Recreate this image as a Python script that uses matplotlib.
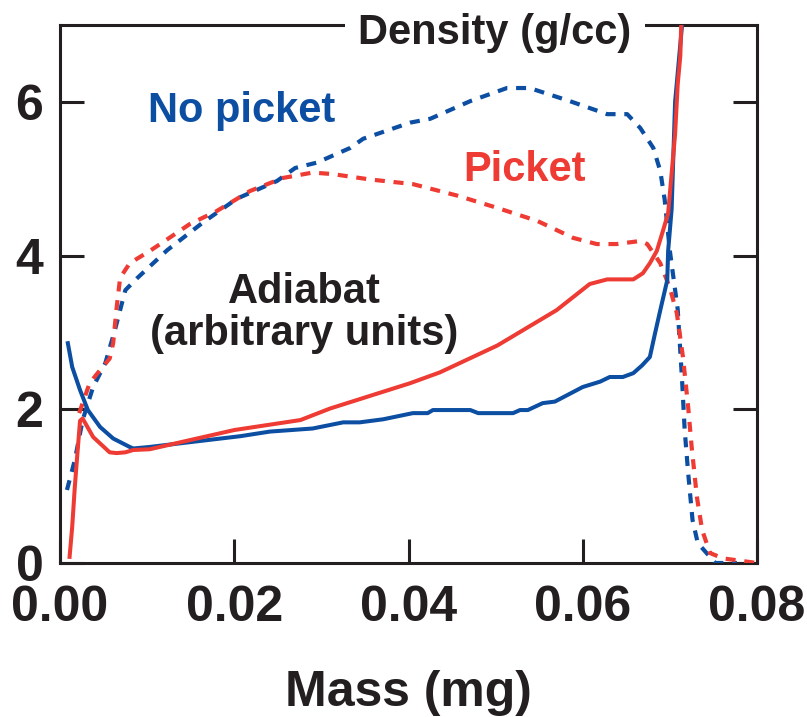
import matplotlib.pyplot as plt

# Adiabat, no picket (blue solid)
adi_np_x = [0.0009, 0.0014, 0.0023, 0.0032, 0.0046, 0.0061, 0.0080, 0.0084, 0.0103, 0.0207,
            0.0241, 0.0290, 0.0325, 0.0344, 0.0371, 0.0405, 0.0422, 0.0428, 0.0471, 0.0480,
            0.0520, 0.0528, 0.0537, 0.0554, 0.0568, 0.0600, 0.0620, 0.0631, 0.0646, 0.0658,
            0.0668, 0.0677, 0.0683, 0.0689, 0.0697, 0.0698, 0.0702, 0.0706, 0.0714]
adi_np_y = [2.86, 2.55, 2.25, 1.99, 1.77, 1.62, 1.51, 1.49, 1.51, 1.65,
            1.71, 1.75, 1.83, 1.83, 1.87, 1.95, 1.95, 1.99, 1.99, 1.95,
            1.95, 1.99, 1.99, 2.08, 2.10, 2.29, 2.36, 2.42, 2.42, 2.47,
            2.57, 2.68, 2.99, 3.29, 3.68, 4.06, 4.60, 6.00, 7.00]

# Adiabat, picket (red solid)
adi_p_x = [0.0011, 0.0014, 0.0017, 0.0020, 0.0023, 0.0026, 0.0038, 0.0057, 0.0065, 0.0075,
           0.0084, 0.0103, 0.0200, 0.0276, 0.0310, 0.0402, 0.0436, 0.0502, 0.0570, 0.0608,
           0.0628, 0.0658, 0.0669, 0.0677, 0.0685, 0.0692, 0.0698, 0.0706, 0.0709, 0.0712, 0.0713]
adi_p_y = [0.08, 0.47, 0.99, 1.43, 1.85, 1.88, 1.64, 1.44, 1.43, 1.44,
           1.47, 1.48, 1.73, 1.86, 2.01, 2.34, 2.48, 2.83, 3.29, 3.63,
           3.69, 3.69, 3.77, 3.90, 4.06, 4.32, 4.55, 5.58, 6.23, 6.60, 7.00]

# Density, no picket (blue dashed)
den_np_x = [0.0008, 0.0017, 0.0026, 0.0038, 0.0052, 0.0063, 0.0075, 0.0088, 0.0123, 0.0164,
            0.0203, 0.0249, 0.0270, 0.0295, 0.0333, 0.0348, 0.0402, 0.0425, 0.0471, 0.0513,
            0.0539, 0.0585, 0.0628, 0.0651, 0.0666, 0.0681, 0.0689, 0.0694, 0.0700, 0.0709,
            0.0714, 0.0717, 0.0721, 0.0726, 0.0732, 0.0746, 0.0752, 0.0777]
den_np_y = [0.95, 1.34, 1.86, 2.29, 2.60, 3.03, 3.55, 3.70, 4.07, 4.43,
            4.74, 4.97, 5.14, 5.21, 5.40, 5.52, 5.73, 5.78, 6.01, 6.18,
            6.18, 6.01, 5.84, 5.84, 5.66, 5.40, 5.10, 4.73, 4.06, 3.30,
            2.38, 1.73, 1.17, 0.56, 0.26, 0.08, 0.00, 0.00]

# Density, picket (red dashed)
den_p_x = [0.0022, 0.0026, 0.0034, 0.0046, 0.0057, 0.0061, 0.0065, 0.0069, 0.0080, 0.0103,
           0.0115, 0.0149, 0.0180, 0.0218, 0.0256, 0.0290, 0.0313, 0.0356, 0.0405, 0.0456,
           0.0502, 0.0548, 0.0589, 0.0616, 0.0639, 0.0666, 0.0674, 0.0689, 0.0700, 0.0708,
           0.0715, 0.0721, 0.0725, 0.0731, 0.0737, 0.0746, 0.0761, 0.0800]
den_p_y = [1.95, 2.08, 2.34, 2.51, 2.66, 2.86, 3.32, 3.71, 3.90, 4.06,
           4.15, 4.41, 4.58, 4.84, 5.01, 5.08, 5.06, 4.99, 4.93, 4.78,
           4.62, 4.45, 4.23, 4.15, 4.15, 4.19, 4.15, 3.90, 3.58, 3.25,
           2.68, 2.03, 1.51, 0.86, 0.43, 0.13, 0.06, 0.00]

x_ticks = [0.00, 0.02, 0.04, 0.06, 0.08]
x_labels = ['0.00', '0.02', '0.04', '0.06', '0.08']
y_ticks = [0, 2, 4, 6]

blue = '#0b4ea2'
red = '#ee3b33'
ink = '#231f20'
fnt = 'Liberation Sans'

fig = plt.figure(figsize=(8.07, 7.17), dpi=100)
ax = fig.add_axes([60 / 807, 154 / 717, 697 / 807, 538 / 717])

dash = (0, (2.4, 2.1))
ax.plot(den_np_x, den_np_y, color=blue, lw=3, linestyle=dash, zorder=3)
ax.plot(den_p_x, den_p_y, color=red, lw=3, linestyle=dash, zorder=3)
ax.plot(adi_np_x, adi_np_y, color=blue, lw=2.9, zorder=4)
ax.plot(adi_p_x, adi_p_y, color=red, lw=2.9, zorder=4)

ax.set_xlim(0, 0.08)
ax.set_ylim(0, 7)
ax.set_xticks(x_ticks)
ax.set_xticklabels(x_labels)
ax.set_yticks(y_ticks)
ax.tick_params(direction='in', length=17, width=2.2, color=ink, pad=12,
               labelsize=36, labelcolor=ink, right=True)
ax.tick_params(axis='x', pad=16)
for lab in ax.get_xticklabels() + ax.get_yticklabels():
    lab.set_fontfamily(fnt)
    lab.set_fontweight('bold')
for s in ax.spines.values():
    s.set_linewidth(2.2)
    s.set_color(ink)

ax.set_xlabel('Mass (mg)', fontsize=36, fontweight='bold', family=fnt, color=ink, labelpad=28)

ax.text(0.624, 0.965, 'Density (g/cc)', transform=ax.transAxes, ha='center', va='baseline',
        fontsize=30, fontweight='bold', family=fnt, color=ink, clip_on=False, zorder=10,
        bbox=dict(facecolor='white', edgecolor='none', pad=10))

ax.text(0.0101, 5.74, 'No picket', ha='left', va='baseline', fontsize=30,
        fontweight='bold', family=fnt, color=blue)
ax.text(0.0463, 4.97, 'Picket', ha='left', va='baseline', fontsize=30,
        fontweight='bold', family=fnt, color=red)
ax.text(0.028, 3.38, 'Adiabat', ha='center', va='baseline', fontsize=30,
        fontweight='bold', family=fnt, color=ink)
ax.text(0.028, 2.83, '(arbitrary units)', ha='center', va='baseline', fontsize=30,
        fontweight='bold', family=fnt, color=ink)

fig.savefig('out.png', dpi=100)
